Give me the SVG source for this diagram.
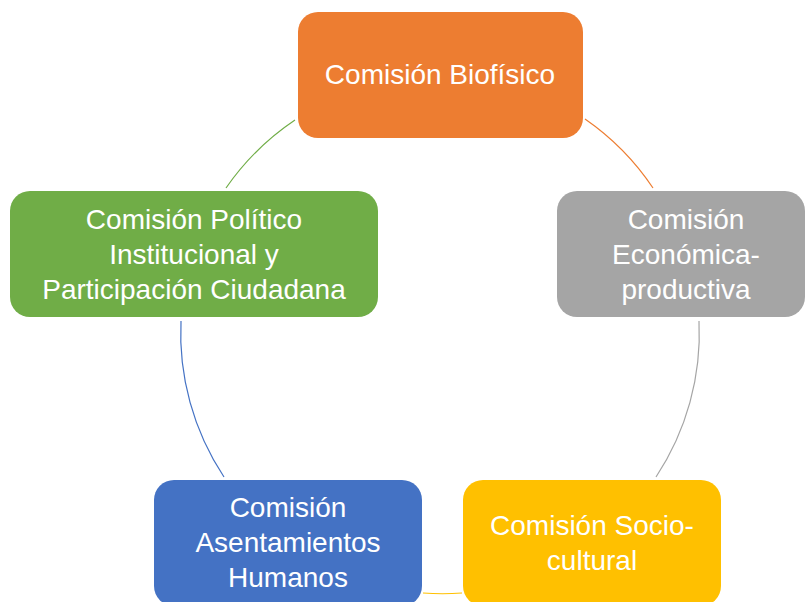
<svg xmlns="http://www.w3.org/2000/svg" width="805" height="602" viewBox="0 0 805 602">
<style>
.lbl{font-family:"Liberation Sans",Arial,sans-serif;font-size:28px;fill:#ffffff;text-anchor:middle}
.arc{fill:none;stroke-width:1.2}
</style>
<rect x="0" y="0" width="805" height="602" fill="#ffffff"/>
<g id="connectors">
<path class="arc" stroke="#ED7D31" d="M585,119 A260,260 0 0 1 653,188"/>
<path class="arc" stroke="#A5A5A5" d="M699,321 A260,260 0 0 1 656,477"/>
<path class="arc" stroke="#FFC000" d="M462,593 A260,260 0 0 1 423,593"/>
<path class="arc" stroke="#4472C4" d="M224,477 A260,260 0 0 1 181,321"/>
<path class="arc" stroke="#70AD47" d="M226,188 A260,260 0 0 1 295,120"/>
</g>
<g id="biofisico">
<rect x="298" y="12" width="285" height="126" rx="20" fill="#ED7D31"/>
<text class="lbl" x="440" y="84">Comisión Biofísico</text>
</g>
<g id="economica">
<rect x="557" y="191" width="248" height="126" rx="20" fill="#A5A5A5"/>
<text class="lbl" x="686" y="229">Comisión</text>
<text class="lbl" x="686" y="264">Económica-</text>
<text class="lbl" x="686" y="299">productiva</text>
</g>
<g id="sociocultural">
<rect x="463" y="480" width="258" height="126" rx="20" fill="#FFC000"/>
<text class="lbl" x="592" y="535">Comisión Socio-</text>
<text class="lbl" x="592" y="570">cultural</text>
</g>
<g id="humanos">
<rect x="154" y="480" width="268" height="126" rx="20" fill="#4472C4"/>
<text class="lbl" x="288" y="517">Comisión</text>
<text class="lbl" x="288" y="552">Asentamientos</text>
<text class="lbl" x="288" y="587">Humanos</text>
</g>
<g id="politico">
<rect x="10" y="191" width="368" height="126" rx="20" fill="#70AD47"/>
<text class="lbl" x="194" y="229">Comisión Político</text>
<text class="lbl" x="194" y="264">Institucional y</text>
<text class="lbl" x="194" y="299">Participación Ciudadana</text>
</g>
</svg>
